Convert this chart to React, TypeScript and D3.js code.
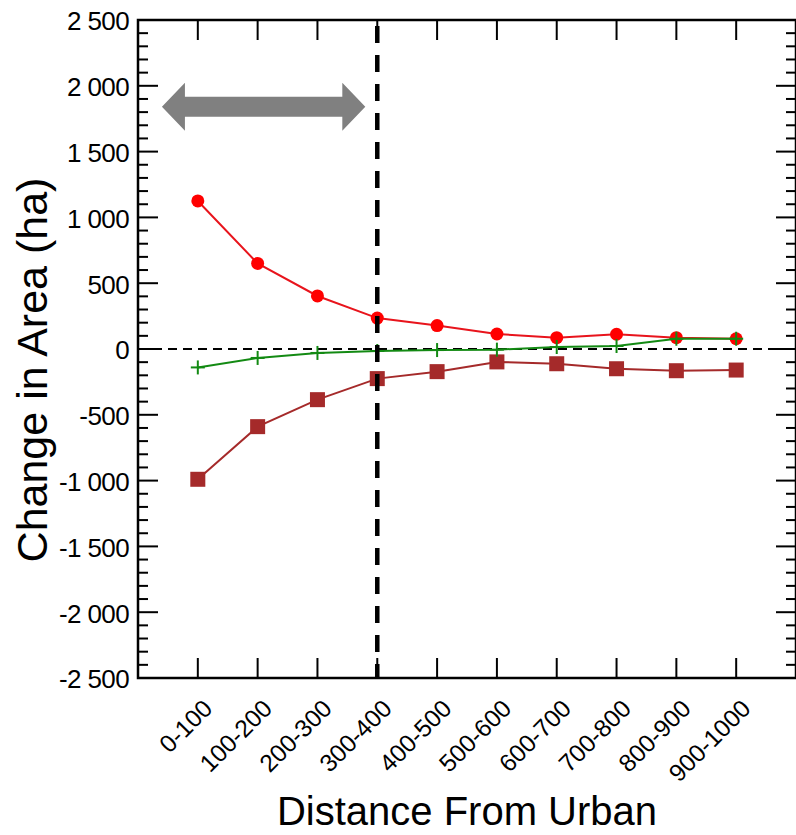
import React from "react";
import * as d3 from "d3";

const categories = ["0-100","100-200","200-300","300-400","400-500","500-600","600-700","700-800","800-900","900-1000"];
const redValues = [1125, 650, 403, 235, 178, 114, 86, 112, 86, 78];
const greenValues = [-140, -68, -30, -15, -8, -5, 15, 23, 78, 78];
const brownValues = [-990, -590, -385, -225, -172, -98, -112, -150, -165, -160];
const yTicks = [2500, 2000, 1500, 1000, 500, 0, -500, -1000, -1500, -2000, -2500];
const yMinorTicks = d3.range(-2500, 2501, 100);
const thresholdIndex = 3;
const arrowRange = [-0.6, 2.8];
const arrowValue = 1840;

const W = 796, H = 835;
const L = 138, R = 796, T = 20, B = 678;

const fmt = (v: number) => {
  const s = Math.abs(v).toString();
  const body = s.length > 3 ? s.slice(0, s.length - 3) + " " + s.slice(-3) : s;
  return (v < 0 ? "-" : "") + body;
};

export default function App() {
  const x = d3.scaleLinear().domain([-1, categories.length]).range([L, R]);
  const y = d3.scaleLinear().domain([-2500, 2500]).range([B, T]);
  const line = d3.line<number>().x((_, i) => x(i)).y((v) => y(v));
  const font = "'Liberation Sans', Arial, sans-serif";

  const ax0 = x(arrowRange[0]), ax1 = x(arrowRange[1]), ay = y(arrowValue);
  const sh = 10, hh = 24, hl = 23;
  const arrowPts = [
    [ax0, ay], [ax0 + hl, ay - hh], [ax0 + hl, ay - sh], [ax1 - hl, ay - sh], [ax1 - hl, ay - hh],
    [ax1, ay], [ax1 - hl, ay + hh], [ax1 - hl, ay + sh], [ax0 + hl, ay + sh], [ax0 + hl, ay + hh],
  ].map((p) => p.join(",")).join(" ");

  return (
    <svg width={W} height={H} style={{ position: "absolute", left: 0, top: 0, background: "#fff" }} fontFamily={font}>
      <rect x={0} y={0} width={W} height={H} fill="#fff" />
      {yMinorTicks.filter((v) => v % 500 !== 0).map((v) => (
        <g key={"m" + v} stroke="#000" strokeWidth={2}>
          <line x1={L} x2={L + 10} y1={y(v)} y2={y(v)} />
          <line x1={R - 10} x2={R} y1={y(v)} y2={y(v)} />
        </g>
      ))}
      {yTicks.map((v) => (
        <g key={"M" + v} stroke="#000" strokeWidth={2}>
          <line x1={L} x2={L + 20} y1={y(v)} y2={y(v)} />
          <line x1={R - 20} x2={R} y1={y(v)} y2={y(v)} />
        </g>
      ))}
      {categories.map((c, i) => (
        <g key={"xt" + c} stroke="#000" strokeWidth={2}>
          <line x1={x(i)} x2={x(i)} y1={T} y2={T + 20} />
          <line x1={x(i)} x2={x(i)} y1={B - 20} y2={B} />
        </g>
      ))}
      <line x1={L} x2={R} y1={y(0)} y2={y(0)} stroke="#000" strokeWidth={2} strokeDasharray="9,6" />
      <polygon points={arrowPts} fill="#808080" />
      <path d={line(redValues) || ""} fill="none" stroke="#e8141c" strokeWidth={2} />
      {redValues.map((v, i) => (
        <circle key={"r" + i} cx={x(i)} cy={y(v)} r={6.5} fill="#ff0000" />
      ))}
      <path d={line(brownValues) || ""} fill="none" stroke="#a52a2a" strokeWidth={2} />
      {brownValues.map((v, i) => (
        <rect key={"b" + i} x={x(i) - 7.5} y={y(v) - 7.5} width={15} height={15} fill="#a52a2a" />
      ))}
      <path d={line(greenValues) || ""} fill="none" stroke="#138a13" strokeWidth={2} />
      {greenValues.map((v, i) => (
        <g key={"g" + i} stroke="#138a13" strokeWidth={2}>
          <line x1={x(i) - 7} x2={x(i) + 7} y1={y(v)} y2={y(v)} />
          <line x1={x(i)} x2={x(i)} y1={y(v) - 7} y2={y(v) + 7} />
        </g>
      ))}
      <line x1={x(thresholdIndex)} x2={x(thresholdIndex)} y1={T} y2={B} stroke="#000" strokeWidth={4.5}
        strokeDasharray="17,12" strokeDashoffset={23} />
      <rect x={L} y={T} width={R - L} height={B - T} fill="none" stroke="#000" strokeWidth={2.5} />
      {yTicks.map((v) => (
        <text key={"yl" + v} x={L - 9} y={y(v) + 1} dy="0.36em" textAnchor="end" fontSize={26} fill="#000"
          letterSpacing={-0.6}>
          {fmt(v)}
        </text>
      ))}
      {categories.map((c, i) => (
        <text key={"xl" + c} transform={`translate(${x(i) + 16},${B + 32}) rotate(-45)`} textAnchor="end"
          fontSize={24.5} fill="#000">
          {c}
        </text>
      ))}
      <text x={(L + R) / 2} y={825} textAnchor="middle" fontSize={40} fill="#000">Distance From Urban</text>
      <text transform={`translate(47,${(T + B) / 2 + 21}) rotate(-90)`} textAnchor="middle" fontSize={43} fill="#000">
        Change in Area (ha)
      </text>
    </svg>
  );
}
